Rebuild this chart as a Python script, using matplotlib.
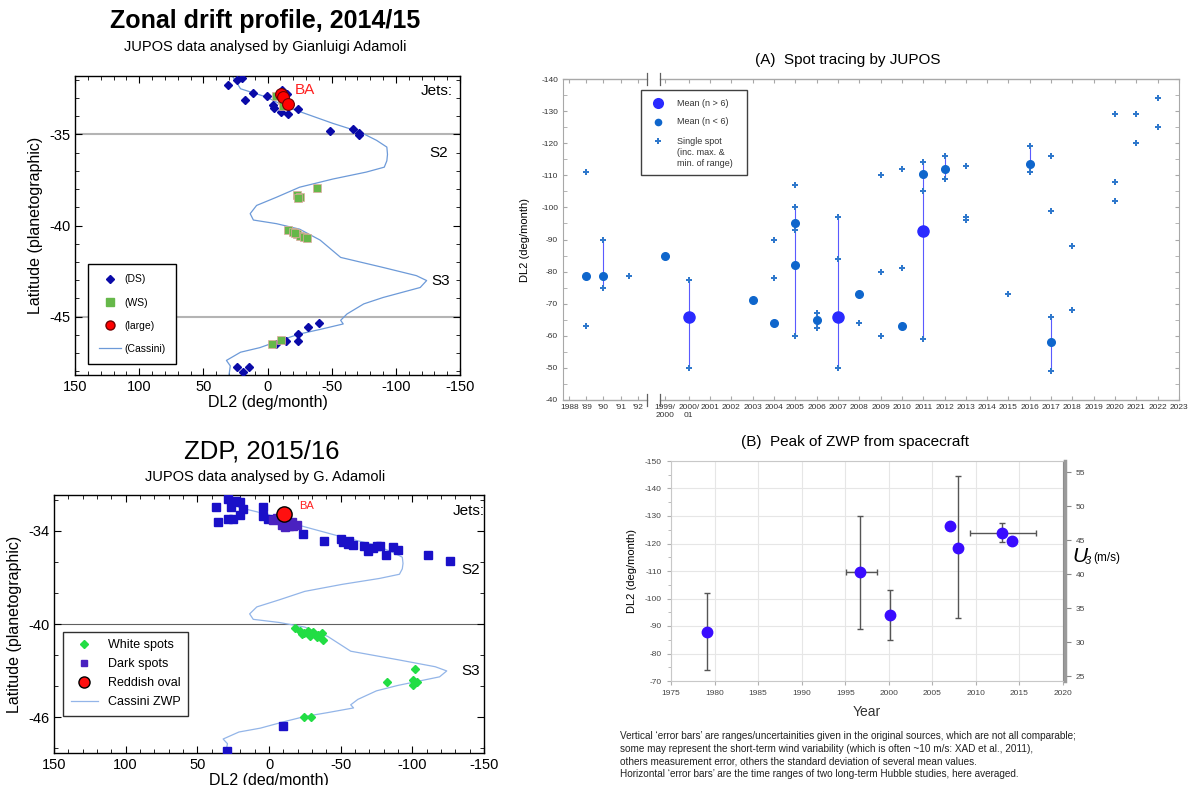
import numpy as np
import matplotlib
matplotlib.use("Agg")
import matplotlib.pyplot as plt
from matplotlib.lines import Line2D
from matplotlib.patches import Rectangle
from matplotlib.ticker import MultipleLocator

plt.rcParams["font.family"] = ["Liberation Sans", "DejaVu Sans"]
plt.rcParams["axes.unicode_minus"] = False

W, H = 1195, 785

# --- Cassini zonal wind profile expressed as DL2 drift ---
CASSINI_LAT = [-31.85, -32.05, -32.5, -32.95, -33.5, -33.95, -34.4, -34.87, -35.33,
               -35.7, -36.1, -36.45, -36.8, -37.07, -37.45, -37.9, -38.45, -38.9,
               -39.35, -39.7, -39.9, -40.2, -40.8, -41.75, -42.3, -42.75, -43.02,
               -43.4, -43.95, -44.3, -44.85, -45.2, -45.4, -45.7, -45.95, -46.25,
               -46.7, -46.95, -47.4, -47.7, -48.2]
CASSINI_DL2 = [27, 25, 21, 1, -15, -33, -51, -72, -85, -93, -93.5, -93, -91, -77,
               -51, -25, -7, 8.5, 13.5, 11, -7, -25, -41, -57, -90, -116, -124,
               -119, -90, -75, -62, -57, -59, -41, -25, -12, 6, 21, 32, 29, 30]

# --- 2014/15 JUPOS drifts ---
DS_DL2_1415 = [24, 20, 30.5, 11, 17.6, 0.7, -11, -15.4, -4.5, -5, -10.5, -16.2, -23.5,
               -48.7, -66.8, -71.5, -71.5, -40.4, -31.8, -24, -23.5, -14.4, -6.3,
               24, 14.2, 19.4]
DS_LAT_1415 = [-32.03, -31.92, -32.31, -32.71, -33.10, -32.89, -32.58, -32.77, -33.37,
               -33.53, -33.77, -33.90, -33.61, -34.82, -34.69, -34.93, -35.05, -45.37,
               -45.59, -45.95, -46.36, -46.36, -46.5, -47.78, -47.78, -48.06]
WS_DL2_1415 = [-6.6, -11, -11.8, -38.8, -22.7, -25.3, -23.5, -16.2, -19.6, -22.7,
               -25.3, -28.4, -31, -21.4, -3.2, -10.5]
WS_LAT_1415 = [-32.89, -33.13, -33.46, -37.95, -38.35, -38.44, -38.48, -40.27, -40.37,
               -40.46, -40.55, -40.64, -40.70, -40.4, -46.5, -46.28]
LARGE_DL2_1415 = [-10.5, -11.8, -16.2]
LARGE_LAT_1415 = [-32.77, -32.95, -33.35]

# --- 2015/16 JUPOS drifts ---
DARK_DL2_1516 = [37.0, 35.8, 28.4, 24.9, 26.5, 23.0, 20.2, 17.9, 20.2, 28.8, 4.4, 3.9,
                 0.5, -23.5, -38.4, -50.0, -51.9, -56.0, -58.4, -66.3, -69.3, -72.8,
                 -77.4, -81.6, -86.7, -89.8, -111.2, -126.3, -10.0, 29.5, -75.1, -55.3]
DARK_LAT_1516 = [-32.48, -33.42, -33.25, -33.25, -32.48, -32.11, -32.18, -32.58, -32.97,
                 -31.96, -32.48, -33.03, -33.25, -34.21, -34.64, -34.54, -34.75, -34.64,
                 -34.94, -35.01, -35.33, -35.12, -35.01, -35.55, -35.05, -35.22, -35.55,
                 -35.93, -46.55, -48.14, -35.01, -34.86]
NEAR_BA_DL2_1516 = [-3.0, -5.4, -8.8, -11.2, -14.2, -17.0, -19.3, -12.3, -8.8, -15.8]
NEAR_BA_LAT_1516 = [-33.29, -33.18, -33.61, -33.76, -33.72, -33.68, -33.61, -33.29,
                    -33.40, -33.46]
WHITE_DL2_1516 = [-18.1, -21.6, -24.4, -27.4, -30.9, -34.4, -36.7, -37.9, -22.8, -28.6,
                  -33.3, -101.9, -82.1, -100.7, -103.0, -100.7, -24.4, -29.3]
WHITE_LAT_1516 = [-40.27, -40.44, -40.59, -40.44, -40.50, -40.70, -40.59, -41.06, -40.63,
                  -40.74, -40.85, -42.88, -43.70, -43.91, -43.76, -43.59, -46.0, -46.0]
OVAL_DL2_1516 = [-10.7]
OVAL_LAT_1516 = [-32.93]

# --- (A) spot tracing by JUPOS, per apparition ---
APPARITIONS = ["1988", "'89", "'90", "'91", "'92", "1999/2000", "2000/01"] + \
    [str(y) for y in range(2001, 2024)]
MEAN_BIG_APP = ["2000/01", "2007", "2011"]
MEAN_BIG_DL2 = [-66, -66, -92.5]
MEAN_SMALL_APP = ["'89", "'90", "1999/2000", "2003", "2004", "2005", "2005", "2006",
                  "2008", "2010", "2011", "2012", "2016", "2017"]
MEAN_SMALL_DL2 = [-78.5, -78.5, -85, -71, -64, -95, -82, -65, -73, -63, -110.5, -112,
                  -113.5, -58]
SINGLE_APP = ["'89", "'89", "'90", "'90", "1991/92", "2000/01", "2000/01", "2004",
              "2004", "2005", "2005", "2005", "2005", "2006", "2006", "2007", "2007",
              "2007", "2008", "2009", "2009", "2009", "2010", "2010", "2011", "2011",
              "2011", "2012", "2012", "2013", "2013", "2013", "2015", "2016", "2016",
              "2017", "2017", "2017", "2017", "2018", "2018", "2020", "2020", "2020",
              "2021", "2021", "2022", "2022"]
SINGLE_DL2 = [-111, -63, -90, -75, -78.5, -77.5, -50, -90, -78, -107, -100, -93, -60,
              -67, -62.5, -97, -84, -50, -64, -110, -80, -60, -112, -81, -114, -105,
              -59, -116, -109, -113, -97, -96, -73, -119, -111, -116, -99, -66, -49,
              -88, -68, -129, -108, -102, -129, -120, -134, -125]
RANGE_APP = ["'90", "2000/01", "2005", "2006", "2007", "2011", "2012", "2016", "2017"]
RANGE_TOP = [-90, -77.5, -100, -67, -97, -114, -116, -119, -66]
RANGE_BOTTOM = [-75, -50, -60, -62.5, -50, -59, -109, -111, -49]

# --- (B) peak of ZWP from spacecraft ---
ZWP_YEAR = [1979.1, 1996.7, 2000.1, 2007.0, 2008.0, 2013.0, 2014.1]
ZWP_DL2 = [-88, -109.5, -94, -126.5, -118.5, -124, -121]
ZWP_ERR_TOP = [-102, -130, -103, np.nan, -144, -127.5, np.nan]
ZWP_ERR_BOTTOM = [-74, -89, -85, np.nan, -92.5, -120.5, np.nan]
ZWP_YEAR_FROM = [np.nan, 1995.1, np.nan, np.nan, np.nan, 2009.3, np.nan]
ZWP_YEAR_TO = [np.nan, 1998.6, np.nan, np.nan, np.nan, 2016.9, np.nan]
# DL2 <-> u3 conversion for the right-hand axis
U3_REF, DL2_AT_U3_REF, DL2_PER_MS = 25.0, -71.8, -2.47

FOOTNOTE = [
    "Vertical \u2018error bars\u2019 are ranges/uncertainities given in the original sources, which are not all comparable;",
    "some may represent the short-term wind variability (which is often ~10 m/s: XAD et al., 2011),",
    "others measurement error, others the standard deviation of several mean values.",
    "Horizontal \u2018error bars\u2019 are the time ranges of two long-term Hubble studies, here averaged.",
]


def px_axes(fig, x0, y0, x1, y1):
    return fig.add_axes([x0 / W, 1 - y1 / H, (x1 - x0) / W, (y1 - y0) / H])


def style_profile_axes(ax, ymajor, yminor):
    ax.set_xlim(150, -150)
    ax.xaxis.set_major_locator(MultipleLocator(50))
    ax.xaxis.set_minor_locator(MultipleLocator(10))
    ax.yaxis.set_major_locator(MultipleLocator(ymajor))
    ax.yaxis.set_minor_locator(MultipleLocator(yminor))
    ax.tick_params(which="both", direction="in", top=True, right=True, labelsize=10.5)
    ax.tick_params(which="major", length=5)
    ax.tick_params(which="minor", length=3)
    for s in ax.spines.values():
        s.set_linewidth(1.0)
    ax.set_xlabel("DL2 (deg/month)", fontsize=11.5, labelpad=1)
    ax.set_ylabel("Latitude (planetographic)", fontsize=11.5, labelpad=4)


fig = plt.figure(figsize=(W / 100, H / 100), dpi=100)

# ---------------- 2014/15 profile ----------------
ax1 = px_axes(fig, 75, 76, 460, 375)
ax1.axhline(-35, color="#b4b4b4", lw=1.5, zorder=1)
ax1.axhline(-45, color="#b4b4b4", lw=1.5, zorder=1)
ax1.plot(CASSINI_DL2, CASSINI_LAT, color="#6d9ad8", lw=0.9, zorder=2)
ax1.plot(DS_DL2_1415, DS_LAT_1415, "D", color="#0a0aa8", ms=4.5, ls="none", zorder=3)
ax1.plot(WS_DL2_1415, WS_LAT_1415, "s", color="#66b84a", mec="#e0a8a0", mew=0.5,
         ms=6, ls="none", zorder=3)
ax1.plot(LARGE_DL2_1415, LARGE_LAT_1415, "o", color="#ff0000", mec="#700000", mew=0.8,
         ms=8.5, ls="none", zorder=4)
ax1.text(-29, -32.55, "BA", color="#ff2020", fontsize=11, ha="center", va="center")
ax1.text(-132, -32.65, "Jets:", fontsize=11, ha="center", va="center")
ax1.text(-133, -36.0, "S2", fontsize=11, ha="center", va="center")
ax1.text(-135, -43.05, "S3", fontsize=11, ha="center", va="center")
ax1.set_ylim(-48.2, -31.8)
style_profile_axes(ax1, 5, 1)
h1 = [
    Line2D([], [], marker="D", color="#0a0aa8", ms=4, ls="none"),
    Line2D([], [], marker="s", color="#66b84a", ms=5.5, ls="none"),
    Line2D([], [], marker="o", color="#ff0000", mec="#700000", ms=6.5, ls="none"),
    Line2D([], [], color="#6d9ad8", lw=0.9),
]
leg1 = ax1.legend(h1, ["(DS)", "(WS)", "(large)", "(Cassini)"], loc="upper left",
                  bbox_to_anchor=(0.034, 0.371), borderaxespad=0, fontsize=7.5,
                  labelspacing=1.25, handlelength=2.2, handletextpad=0.3,
                  borderpad=1.0, fancybox=False, framealpha=1, edgecolor="black")
leg1.get_frame().set_linewidth(1.0)
leg1.set_zorder(10)

fig.text(265 / W, 1 - 21 / H, "Zonal drift profile, 2014/15", fontsize=18,
         fontweight="bold", ha="center", va="center")
fig.text(265 / W, 1 - 47 / H, "JUPOS data analysed by Gianluigi Adamoli",
         fontsize=10.5, ha="center", va="center")

# ---------------- 2015/16 profile ----------------
ax3 = px_axes(fig, 54, 495, 484, 753)
ax3.axhline(-40, color="#606060", lw=0.8, zorder=1)
ax3.plot(CASSINI_DL2, CASSINI_LAT, color="#93b5e8", lw=0.9, zorder=2)
ax3.plot(DARK_DL2_1516, DARK_LAT_1516, "s", color="#1a10c8", ms=5.5, ls="none", zorder=3)
ax3.plot(NEAR_BA_DL2_1516, NEAR_BA_LAT_1516, "s", color="#4a22c0", ms=5.5, ls="none",
         zorder=3)
ax3.plot(WHITE_DL2_1516, WHITE_LAT_1516, "D", color="#22dd44", ms=4.5, ls="none", zorder=3)
ax3.plot(OVAL_DL2_1516, OVAL_LAT_1516, "o", color="#ff1010", mec="black", mew=1.0,
         ms=11, ls="none", zorder=4)
ax3.text(-26.3, -32.4, "BA", color="#ff2020", fontsize=8, ha="center", va="center")
ax3.text(-139, -32.75, "Jets:", fontsize=11, ha="center", va="center")
ax3.text(-141, -36.5, "S2", fontsize=11, ha="center", va="center")
ax3.text(-141, -43.0, "S3", fontsize=11, ha="center", va="center")
ax3.set_ylim(-48.3, -31.7)
style_profile_axes(ax3, 6, 2)
ax3.set_yticks([-34, -40, -46])
h3 = [
    Line2D([], [], marker="D", color="#22dd44", ms=4.5, ls="none"),
    Line2D([], [], marker="s", color="#4a22c0", ms=5, ls="none"),
    Line2D([], [], marker="o", color="#ff1010", mec="black", ms=8, ls="none"),
    Line2D([], [], color="#93b5e8", lw=0.9),
]
leg3 = ax3.legend(h3, ["White spots", "Dark spots", "Reddish oval", "Cassini ZWP"],
                  loc="upper left", bbox_to_anchor=(0.021, 0.469), borderaxespad=0,
                  fontsize=9, labelspacing=0.55, handlelength=2.2, handletextpad=0.8,
                  borderpad=0.6, fancybox=False, framealpha=1, edgecolor="#303030")
leg3.set_zorder(10)

fig.text(262 / W, 1 - 452 / H, "ZDP, 2015/16", fontsize=18.5, ha="center", va="center")
fig.text(265 / W, 1 - 477 / H, "JUPOS data analysed by G. Adamoli", fontsize=10.5,
         ha="center", va="center")

# ---------------- (A) spot tracing ----------------
axA = px_axes(fig, 563, 79, 1179, 400)
app_pos = {}
for i, lab in enumerate(APPARITIONS[:5]):
    app_pos[lab] = -6.6 + 0.8 * i
app_pos["1999/2000"] = -2.1
app_pos["2000/01"] = -1.0
for lab in APPARITIONS[7:]:
    app_pos[lab] = int(lab) - 2001
app_pos["1991/92"] = (app_pos["'91"] + app_pos["'92"]) / 2

grey = "#a8a8a8"
c_big, c_small, c_single = "#2a2aff", "#0f66cc", "#2f78cc"
axA.vlines([app_pos[a] for a in RANGE_APP], RANGE_BOTTOM, RANGE_TOP, color="#5a5aff",
           lw=0.8, zorder=2)
axA.plot([app_pos[a] for a in SINGLE_APP], SINGLE_DL2, "P", color=c_single, ms=4.5,
         mew=0, ls="none", zorder=3)
axA.plot([app_pos[a] for a in MEAN_SMALL_APP], MEAN_SMALL_DL2, "o", color=c_small,
         ms=5.5, ls="none", zorder=4)
axA.plot([app_pos[a] for a in MEAN_BIG_APP], MEAN_BIG_DL2, "o", color=c_big,
         ms=8, ls="none", zorder=4)
axA.set_xlim(-6.9, 22)
axA.set_ylim(-40, -140)
axA.set_xticks([app_pos[a] for a in APPARITIONS])
axA.set_xticklabels([a.replace("/", "/\n") for a in APPARITIONS])
axA.yaxis.set_major_locator(MultipleLocator(10))
axA.yaxis.set_minor_locator(MultipleLocator(5))
axA.tick_params(axis="x", which="both", direction="in", top=True, length=3,
                labelsize=6, colors=grey, labelcolor="#333333", pad=3)
axA.tick_params(axis="y", which="both", direction="in", right=True, length=3,
                labelsize=6, colors=grey, labelcolor="#333333")
for s in ["left", "right"]:
    axA.spines[s].set_color(grey)
for s in ["top", "bottom"]:
    axA.spines[s].set_visible(False)
# axis break between the early and the recent apparitions
brk_lo, brk_hi = -2.95, -2.35
xt = axA.get_xaxis_transform()
for yy in (0, 1):
    axA.plot([-6.9, brk_lo], [yy, yy], color=grey, lw=1, transform=xt, clip_on=False)
    axA.plot([brk_hi, 22], [yy, yy], color=grey, lw=1, transform=xt, clip_on=False)
    for bx in (brk_lo, brk_hi):
        axA.plot([bx, bx], [yy - 0.018, yy + 0.018], color="#606060", lw=0.9,
                 transform=xt, clip_on=False)
axA.set_ylabel("DL2 (deg/month)", fontsize=8, labelpad=8)

# hand-built legend box so the marker sits on the first line of each entry
box_x0, box_y0, box_x1, box_y1 = 641, 90, 747, 175
fig.patches.append(Rectangle((box_x0 / W, 1 - box_y1 / H), (box_x1 - box_x0) / W,
                             (box_y1 - box_y0) / H, transform=fig.transFigure,
                             facecolor="white", edgecolor="#404040", lw=1.0, zorder=5))
leg_rows = [
    (103, "o", c_big, 8, ["Mean (n > 6)"]),
    (122, "o", c_small, 5.5, ["Mean (n < 6)"]),
    (141, "P", c_single, 4.5, ["Single spot", "(inc. max. &", "min. of range)"]),
]
for ypx, mk, col, ms, lines in leg_rows:
    fig.lines.append(Line2D([658 / W], [1 - ypx / H], marker=mk, color=col, ms=ms,
                            mew=0, ls="none", transform=fig.transFigure, zorder=6))
    for j, ln in enumerate(lines):
        fig.text(677 / W, 1 - (ypx + 11.5 * j) / H, ln, fontsize=6.5, ha="left",
                 va="center", color="#333333", zorder=6)

fig.text(848 / W, 1 - 60 / H, "(A)  Spot tracing by JUPOS", fontsize=11,
         ha="center", va="center")

# ---------------- (B) peak of ZWP ----------------
axB = px_axes(fig, 671, 461, 1063, 681)
axB.set_xlim(1975, 2020)
axB.set_ylim(-70, -150)
axB.xaxis.set_major_locator(MultipleLocator(5))
axB.yaxis.set_major_locator(MultipleLocator(10))
axB.yaxis.set_minor_locator(MultipleLocator(5))
axB.grid(True, which="major", color="#e6e6e6", lw=0.8)
axB.set_axisbelow(True)
for i in range(len(ZWP_YEAR)):
    yerr = None
    xerr = None
    if np.isfinite(ZWP_ERR_TOP[i]):
        yerr = np.array([[ZWP_ERR_BOTTOM[i] - ZWP_DL2[i]], [ZWP_DL2[i] - ZWP_ERR_TOP[i]]])
    if np.isfinite(ZWP_YEAR_FROM[i]):
        xerr = np.array([[ZWP_YEAR[i] - ZWP_YEAR_FROM[i]], [ZWP_YEAR_TO[i] - ZWP_YEAR[i]]])
    if yerr is not None or xerr is not None:
        axB.errorbar([ZWP_YEAR[i]], [ZWP_DL2[i]], yerr=yerr, xerr=xerr, fmt="none",
                     ecolor="#555555", elinewidth=1.0, capsize=2.5, capthick=1.0,
                     zorder=2)
axB.plot(ZWP_YEAR, ZWP_DL2, "o", color="#3a0cff", ms=7.5, ls="none", zorder=3)
axB.tick_params(axis="both", which="both", direction="out", length=3, labelsize=6,
                colors="#b0b0b0", labelcolor="#444444")
axB.tick_params(axis="y", which="minor", length=2)
for s in ["left", "bottom", "top"]:
    axB.spines[s].set_color("#c8c8c8")
axB.spines["right"].set_color("#888888")
axB.set_xlabel("Year", fontsize=10, color="#333333", labelpad=6)
axB.set_ylabel("DL2 (deg/month)", fontsize=8, labelpad=6)

axR = axB.twinx()
u_bottom = U3_REF + (-70 - DL2_AT_U3_REF) / DL2_PER_MS
u_top = U3_REF + (-150 - DL2_AT_U3_REF) / DL2_PER_MS
axR.set_ylim(u_bottom, u_top)
axR.yaxis.set_major_locator(MultipleLocator(5))
axR.tick_params(axis="y", direction="out", length=4, labelsize=6, colors="#888888",
                labelcolor="#444444")
for s in ["left", "bottom", "top"]:
    axR.spines[s].set_visible(False)
axR.spines["right"].set_color("#9a9a9a")
axR.spines["right"].set_linewidth(2.5)
axR.spines["right"].set_position(("outward", 1.5))
fig.text(1072 / W, 1 - 556 / H, "U", fontsize=15, fontstyle="italic",
         ha="left", va="center")
fig.text(1085 / W, 1 - 561 / H, "3", fontsize=8, fontstyle="italic",
         ha="left", va="center")
fig.text(1093 / W, 1 - 558 / H, "(m/s)", fontsize=8.5, ha="left", va="center")

fig.text(855 / W, 1 - 442 / H, "(B)  Peak of ZWP from spacecraft", fontsize=11,
         ha="center", va="center")

for k, line in enumerate(FOOTNOTE):
    fig.text(620 / W, 1 - (736 + 12.6 * k) / H, line, fontsize=7.2, ha="left",
             va="center", color="#222222")

fig.savefig("out.png", dpi=100)
